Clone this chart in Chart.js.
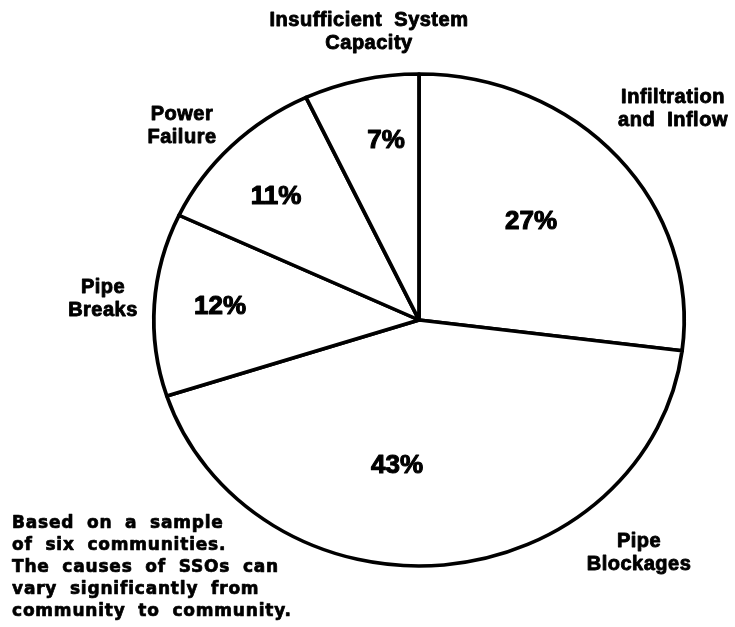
<!DOCTYPE html>
<html>
<head>
<meta charset="utf-8">
<title>Causes of SSOs</title>
<script src="https://cdn.jsdelivr.net/npm/chart.js@4"></script>
<style>
    html, body { margin: 0; padding: 0; background: #fff; }
    #wrap { width: 735px; height: 627px; }
</style>
</head>
<body>
<div id="wrap"><canvas id="causesChart" width="735" height="627"></canvas></div>
<script>
// slices go clockwise from 12 o'clock
const causes = ["Infiltration and Inflow", "Pipe Blockages", "Pipe Breaks", "Power Failure", "Insufficient System Capacity"];
const shares = [27, 43, 12, 11, 7];

// how each category name is split on the page
const causeLines = [
    ["Infiltration", "and Inflow"],
    ["Pipe", "Blockages"],
    ["Pipe", "Breaks"],
    ["Power", "Failure"],
    ["Insufficient System", "Capacity"]
];

const noteLines = [
    "Based on a sample",
    "of six communities.",
    "The causes of SSOs can",
    "vary significantly from",
    "community to community."
];

document.addEventListener("DOMContentLoaded", function () {
    const CX = 419, CY = 320;
    const STRETCH = 1.078; // the original pie is a bit wider than tall

    // label centres (text only)
    const namePos = [[673, 97], [639, 541], [103, 287], [182, 114], [369, 20]];
    const pctPos = [[531, 222], [397, 466], [220, 307], [276, 197], [386, 141]];

    const stretchPlugin = {
        id: "stretch",
        beforeDatasetsDraw(chart) {
            const ctx = chart.ctx;
            ctx.save();
            ctx.translate(CX, CY);
            ctx.scale(STRETCH, 1);
            ctx.translate(-CX, -CY);
        },
        afterDatasetsDraw(chart) {
            chart.ctx.restore();
        }
    };

    // fill + thin stroke so the text looks as heavy as the scan
    function heavyText(ctx, s, x, y) {
        ctx.fillText(s, x, y);
        ctx.strokeText(s, x, y);
    }

    const textPlugin = {
        id: "texts",
        afterDraw(chart) {
            const ctx = chart.ctx;
            ctx.save();
            ctx.fillStyle = "#000";
            ctx.strokeStyle = "#000";
            ctx.lineWidth = 0.9;
            ctx.lineJoin = "round";
            ctx.textAlign = "center";
            ctx.textBaseline = "middle";

            // category names
            ctx.font = "bold 20px 'Liberation Sans', Arial, sans-serif";
            ctx.letterSpacing = "0.5px";
            ctx.wordSpacing = "6px";
            causeLines.forEach(function (lines, i) {
                lines.forEach(function (line, j) {
                    heavyText(ctx, line, namePos[i][0], namePos[i][1] + j * 23);
                });
            });

            // percentages
            ctx.font = "bold 26px 'Liberation Sans', Arial, sans-serif";
            ctx.letterSpacing = "0px";
            ctx.wordSpacing = "0px";
            ctx.lineWidth = 1.1;
            shares.forEach(function (v, i) {
                heavyText(ctx, v + "%", pctPos[i][0], pctPos[i][1]);
            });

            // note in the lower left
            ctx.textAlign = "left";
            ctx.textBaseline = "alphabetic";
            ctx.font = "bold 17px 'DejaVu Sans', sans-serif";
            ctx.letterSpacing = "0.8px";
            ctx.wordSpacing = "6px";
            ctx.lineWidth = 0.7;
            noteLines.forEach(function (line, j) {
                heavyText(ctx, line, 12, 528 + j * 22);
            });
            ctx.restore();
        }
    };

    new Chart(document.getElementById("causesChart"), {
        type: "pie",
        data: {
            labels: causes,
            datasets: [{
                data: shares,
                backgroundColor: "#ffffff",
                borderColor: "#000000",
                borderWidth: 3.5,
                borderJoinStyle: "round",
                radius: 246
            }]
        },
        options: {
            responsive: false,
            animation: false,
            layout: { padding: { left: 103, right: 0, top: 13, bottom: 0 } },
            plugins: {
                legend: { display: false },
                tooltip: { enabled: false }
            }
        },
        plugins: [stretchPlugin, textPlugin]
    });
});
</script>
</body>
</html>
